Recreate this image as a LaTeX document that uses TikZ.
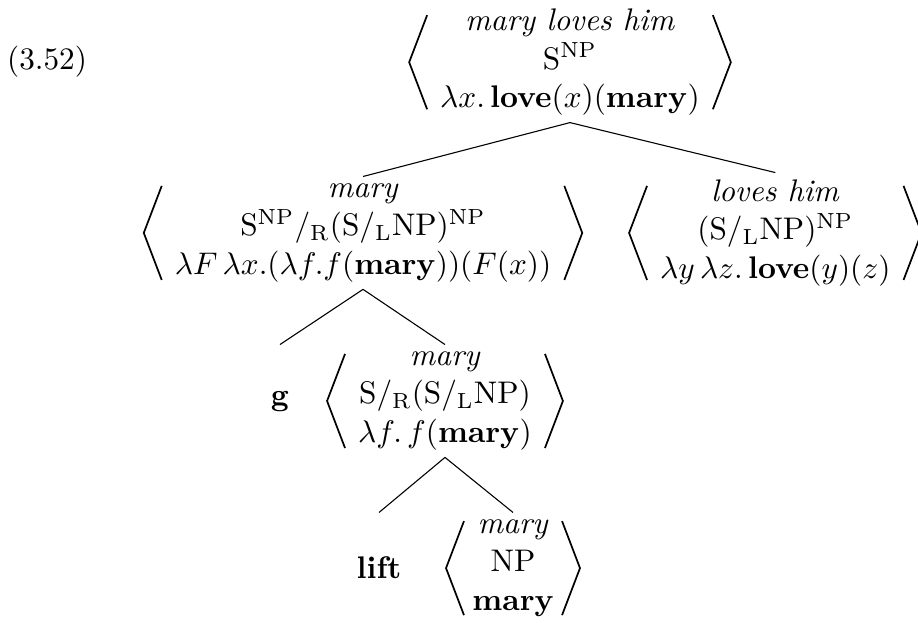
\documentclass[tikz,border=0pt]{standalone}
\usepackage{amsmath,amssymb}
\usepackage{tikz}
\usetikzlibrary{positioning,calc}
\newcommand{\slR}{/\textsubscript{R}}
\newcommand{\slL}{/\textsubscript{L}}
\newcommand{\NPsup}{\textsuperscript{NP}}
\newcommand{\bm}[1]{\mathbf{#1}}
% angle brackets round a sign node
\newcommand{\angles}[1]{%
  \draw[bracket] ([yshift=0.529cm]#1.west) -- ([xshift=-0.202cm]#1.west) -- ([yshift=-0.529cm]#1.west);
  \draw[bracket] ([yshift=0.529cm]#1.east) -- ([xshift=0.202cm]#1.east) -- ([yshift=-0.529cm]#1.east);}
\tikzset{
  sign/.style={align=center, inner xsep=4pt, inner ysep=2pt,
    font=\fontsize{10}{12.4}\selectfont},
  bracket/.style={line width=0.55pt, line join=miter},
  branch/.style={line width=0.35pt},
  opname/.style={font=\bfseries, inner sep=2pt}
}

\begin{document}
\begin{tikzpicture}
    \useasboundingbox (0,0) rectangle (10.325,-7.007);
    \node (exno) at (0.529,-0.697) {(3.52)};
    % root
    \node[sign] (top) at (6.411,-0.700)
      {\textit{mary loves him}\\ S\NPsup\\ $\lambda x.\,\bm{love}(x)(\bm{mary})$};
    % daughters
    \node[sign] (lmid) at (4.083,-2.620)
      {\textit{mary}\\ S\NPsup\slR(S\slL NP)\NPsup\\
       $\lambda F\,\lambda x.(\lambda f.f(\bm{mary}))(F(x))$};
    \node[sign] (rmid) at (8.720,-2.620)
      {\textit{loves him}\\ (S\slL NP)\NPsup\\ $\lambda y\,\lambda z.\,\bm{love}(y)(z)$};
    \node[opname] (g) at (3.149,-4.521) {g};
    \node[sign] (mid) at (5.005,-4.510)
      {\textit{mary}\\ S\slR(S\slL NP)\\ $\lambda f.\,f(\bm{mary})$};
    \node[opname] (lift) at (4.263,-6.388) {lift};
    \node[sign, inner xsep=2.5pt] (bot) at (5.770,-6.390)
      {\textit{mary}\\ NP\\ \textbf{mary}};
    \angles{top} \angles{lmid} \angles{rmid} \angles{mid} \angles{bot}
    % branches
    \draw[branch] (top.south) -- (lmid.north);
    \draw[branch] (top.south) -- (rmid.north);
    \draw[branch] (lmid.south) -- (g |- mid.north);
    \draw[branch] (lmid.south) -- (mid.north);
    \draw[branch] (mid.south) -- (lift |- bot.north);
    \draw[branch] (mid.south) -- (bot.north);
\end{tikzpicture}
\end{document}
